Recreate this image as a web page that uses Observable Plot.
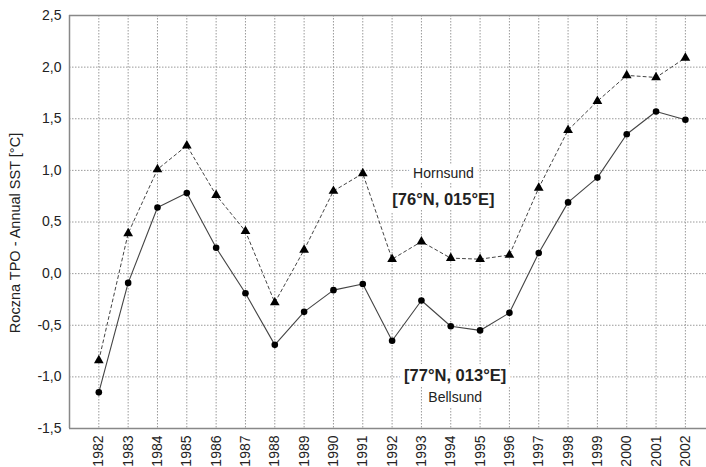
<!DOCTYPE html>
<html>
<head>
<meta charset="utf-8">
<script src="https://cdn.jsdelivr.net/npm/d3@7"></script>
<script src="https://cdn.jsdelivr.net/npm/@observablehq/plot@0.6"></script>
<style>
  html, body { margin: 0; padding: 0; background: #fff; overflow: hidden; }
  #chart svg { display: block; }
</style>
</head>
<body>
<div id="chart"></div>
<script>
const years = [1982,1983,1984,1985,1986,1987,1988,1989,1990,1991,1992,1993,1994,1995,1996,1997,1998,1999,2000,2001,2002];
const hornsund = [-0.84,0.39,1.01,1.24,0.76,0.41,-0.28,0.23,0.80,0.97,0.14,0.31,0.15,0.14,0.18,0.83,1.39,1.67,1.92,1.90,2.09];
const bellsund = [-1.15,-0.09,0.64,0.78,0.25,-0.19,-0.69,-0.37,-0.16,-0.10,-0.65,-0.26,-0.51,-0.55,-0.38,0.20,0.69,0.93,1.35,1.57,1.49];
const yTicks = [-1.5,-1.0,-0.5,0.0,0.5,1.0,1.5,2.0,2.5];
const yTitle = "Roczna TPO - Annual SST [°C]";
const labels = [
  {x: 1993.75, y: 0.97, text: "Hornsund", bold: false},
  {x: 1993.75, y: 0.72, text: "[76°N, 015°E]", bold: true},
  {x: 1994.15, y: -0.99, text: "[77°N, 013°E]", bold: true},
  {x: 1994.15, y: -1.20, text: "Bellsund", bold: false}
];

const H = years.map((y, i) => ({year: y, v: hornsund[i]}));
const B = years.map((y, i) => ({year: y, v: bellsund[i]}));
const fmt = v => v.toFixed(1).replace(".", ",");
const grid = {stroke: "#9a9a9a", strokeDasharray: "1.5,1.5", strokeWidth: 1};

const chart = Plot.plot({
  width: 706,
  height: 467,
  marginTop: 15,
  marginBottom: 39,
  marginLeft: 69,
  marginRight: 0,
  style: {fontFamily: "Liberation Sans, Arial, sans-serif", fontSize: "14px", color: "#222", background: "#fff"},
  x: {domain: [1981, 2002.72], label: null},
  y: {domain: [-1.5, 2.5], label: null},
  marks: [
    Plot.ruleX(years, {x: d => d, ...grid}),
    Plot.ruleY(yTicks.slice(1, -1), {y: d => d, ...grid}),
    Plot.ruleY([-1.5, 2.5], {stroke: "#888", strokeWidth: 1.5}),
    Plot.ruleX([1981], {stroke: "#888", strokeWidth: 1.5}),
    Plot.axisY({ticks: yTicks, tickFormat: fmt, tickSize: 0, tickPadding: 8, fontSize: 14, label: null}),
    Plot.axisX({ticks: years, tickFormat: d => String(d), tickSize: 0, tickPadding: 7, tickRotate: -90, fontSize: 14, label: null}),
    Plot.text([yTitle], {frameAnchor: "left", text: d => d, textAnchor: "middle", rotate: -90, dx: -54, dy: 11, fontSize: 14.5, fill: "#222"}),
    Plot.line(H, {x: "year", y: "v", stroke: "#444", strokeWidth: 1, strokeDasharray: "3,3"}),
    Plot.line(B, {x: "year", y: "v", stroke: "#444", strokeWidth: 1.1}),
    Plot.dot(H, {x: "year", y: "v", symbol: "triangle", r: 3.6, fill: "#000", stroke: "none"}),
    Plot.dot(B, {x: "year", y: "v", symbol: "circle", r: 3.3, fill: "#000", stroke: "none"}),
    Plot.text(labels.filter(d => !d.bold), {x: "x", y: "y", text: "text", fontSize: 14, fill: "#222",
      stroke: "#fff", strokeWidth: 10, paintOrder: "stroke"}),
    Plot.text(labels.filter(d => d.bold), {x: "x", y: "y", text: "text", fontSize: 16.5, fontWeight: "bold", fill: "#222",
      stroke: "#fff", strokeWidth: 10, paintOrder: "stroke"})
  ]
});
document.getElementById("chart").append(chart);
</script>
</body>
</html>
